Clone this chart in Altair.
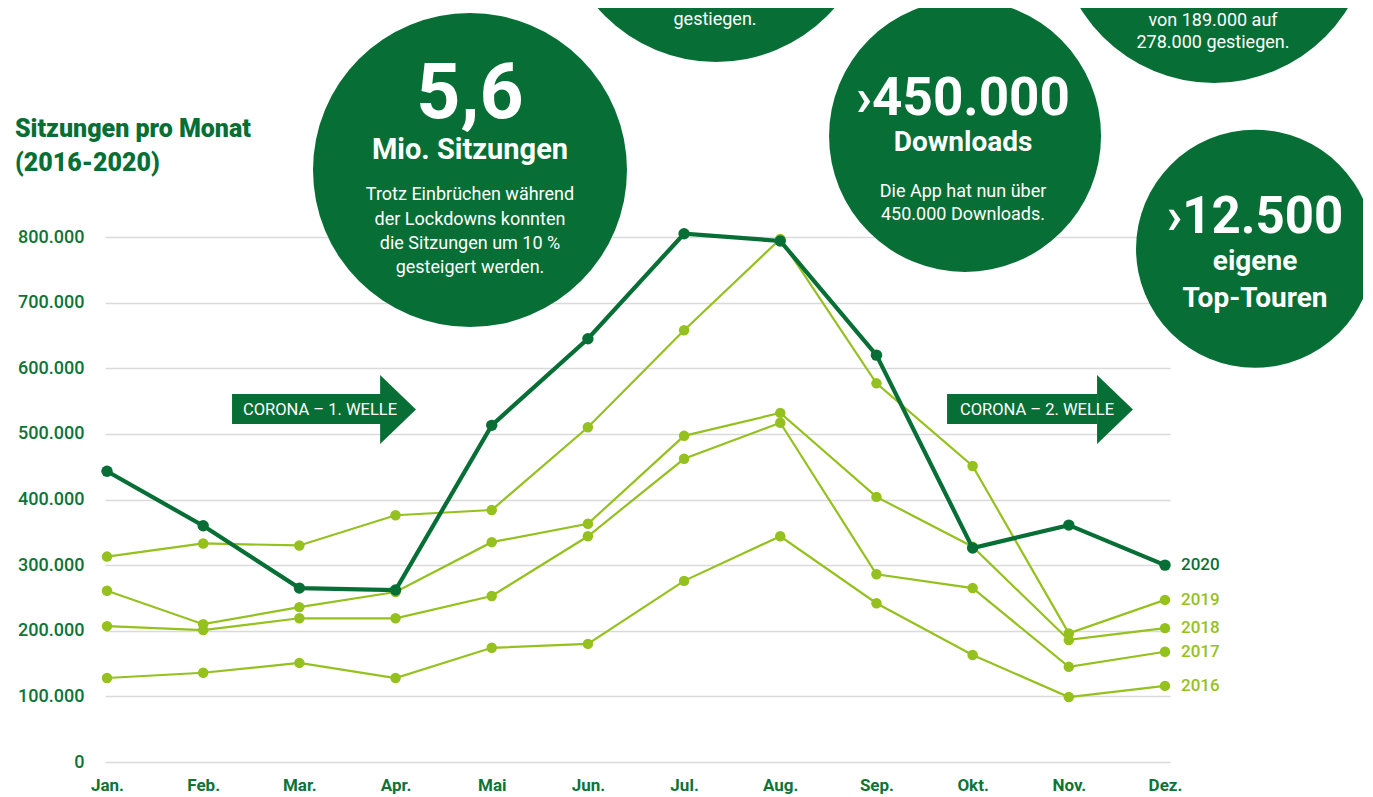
import altair as alt
import pandas as pd

# ---------------- data ----------------
months = ["Jan.", "Feb.", "Mar.", "Apr.", "Mai", "Jun.", "Jul.", "Aug.", "Sep.", "Okt.", "Nov.", "Dez."]
years = ["2016", "2017", "2018", "2019", "2020"]
s2016 = [128000, 136000, 151000, 128000, 174000, 180000, 276000, 344000, 242000, 163000, 99000, 116000]
s2017 = [207000, 201000, 219000, 219000, 253000, 344000, 462000, 517000, 286000, 265000, 145000, 168000]
s2018 = [261000, 210000, 236000, 259000, 335000, 363000, 497000, 532000, 404000, 328000, 186000, 204000]
s2019 = [313000, 333000, 330000, 376000, 384000, 510000, 658000, 797000, 577000, 451000, 196000, 247000]
s2020 = [443000, 360000, 265000, 262000, 513000, 645000, 805000, 794000, 620000, 326000, 361000, 300000]
y_ticks = [0, 100000, 200000, 300000, 400000, 500000, 600000, 700000, 800000]

series = {"2016": s2016, "2017": s2017, "2018": s2018, "2019": s2019, "2020": s2020}
rows = []
for yr, vals in series.items():
    for i, v in enumerate(vals):
        rows.append({"year": yr, "m": i, "v": v})
df = pd.DataFrame(rows)

# annotation content (positions in chart units: month index / sessions)
circle_x = [3.774, 6.332, 8.921, 11.51, 11.936]
circle_y = [902000, 1306000, 954000, 1274000, 782000]
circle_d = [314, 314, 272, 314, 238]  # diameters

title_lines = ["Sitzungen pro Monat", "(2016-2020)"]
title_y = [952400, 900600]

big_texts = ["5,6", "›450.000", "›12.500"]
big_x = [3.774, 8.90, 11.936]
big_y = [981300, 985900, 806100]
big_sizes = [77, 53, 51]

head_texts = ["Mio. Sitzungen", "Downloads", "eigene", "Top-Touren"]
head_x = [3.774, 8.90, 11.936, 11.936]
head_y = [918900, 931000, 749700, 693300]
head_sizes = [29, 28, 28, 28]

body_texts = ["Trotz Einbrüchen während", "der Lockdowns konnten", "die Sitzungen um 10 %",
              "gesteigert werden.", "gestiegen.", "Die App hat nun über", "450.000 Downloads.",
              "von 189.000 auf", "278.000 gestiegen."]
body_x = [3.774, 3.774, 3.774, 3.774, 6.322, 8.90, 8.90, 11.499, 11.499]
body_y = [856400, 819000, 781700, 744400, 1123000, 861000, 825900, 1121500, 1088000]

arrow_labels = ["CORONA – 1. WELLE", "CORONA – 2. WELLE"]
arrow_x0 = [1.30, 8.734]
arrow_x1 = [2.849, 10.293]
arrow_head_x = [3.026, 10.48]
arrow_text_x = [2.215, 9.669]
arrow_y0 = [515000, 515000]
arrow_y1 = [560800, 560800]
arrow_mid = [537100, 537100]

# ---------------- styling ----------------
DARK = "#076f35"
LIGHT = "#95c11f"
LABEL = "#0d7437"
FONT = "Roboto"

xscale = alt.Scale(domain=[-0.0208, 11.052], nice=False, zero=False)
yscale = alt.Scale(domain=[0, 800000], nice=False, zero=False)
color_scale = alt.Scale(domain=years, range=[LIGHT, LIGHT, LIGHT, LIGHT, DARK])

month_expr = "[" + ",".join("'" + m + "'" for m in months) + "][datum.value]"

x_axis = alt.Axis(values=list(range(12)), labelExpr=month_expr, grid=False, domain=False,
                  ticks=False, title=None, labelFont=FONT, labelFontWeight="bold",
                  labelFontSize=17, labelColor=LABEL, labelPadding=15)
y_axis = alt.Axis(values=y_ticks, labelExpr="replace(format(datum.value, ','), ',', '.')",
                  grid=True, gridColor="#dadada", gridWidth=1.5, domain=False, ticks=False,
                  title=None, labelFont=FONT, labelFontWeight=500, labelFontSize=18,
                  labelColor=LABEL, labelPadding=21)


def X(field="m"):
    return alt.X(f"{field}:Q", scale=xscale, axis=x_axis)


def Y(field="v"):
    return alt.Y(f"{field}:Q", scale=yscale, axis=y_axis)


circles = alt.Chart(pd.DataFrame({"m": circle_x, "v": circle_y, "d": circle_d})).transform_calculate(
    s="datum.d * datum.d"
).mark_circle(color=DARK, opacity=1).encode(
    x=X(), y=Y(), size=alt.Size("s:Q", scale=None, legend=None)
)

light_df = df[df.year != "2020"]
dark_df = df[df.year == "2020"]

light_lines = alt.Chart(light_df).mark_line(color=LIGHT, strokeWidth=2.2).encode(
    x=X(), y=Y(), detail="year:N")
light_pts = alt.Chart(light_df).mark_circle(color=LIGHT, opacity=1, size=110).encode(x=X(), y=Y())
dark_line = alt.Chart(dark_df).mark_line(color=DARK, strokeWidth=4.2).encode(x=X(), y=Y())
dark_pts = alt.Chart(dark_df).mark_circle(color=DARK, opacity=1, size=130).encode(x=X(), y=Y())

year_labels = alt.Chart(df[df.m == 11]).mark_text(
    align="left", baseline="middle", dx=16, font=FONT, fontSize=17, fontWeight=500
).encode(x=X(), y=Y(), text="year:N",
         color=alt.Color("year:N", scale=color_scale, legend=None))

arrow_df = pd.DataFrame({"x0": arrow_x0, "x1": arrow_x1, "y0": arrow_y0, "y1": arrow_y1,
                         "hx": arrow_head_x, "tx": arrow_text_x, "ym": arrow_mid, "t": arrow_labels})
arrow_body = alt.Chart(arrow_df).mark_rect(color=DARK).encode(
    x=X("x0"), x2="x1:Q", y=Y("y0"), y2="y1:Q")
arrow_head = alt.Chart(arrow_df).mark_point(
    shape="M -0.52 -1 L 0.52 0 L -0.52 1 Z", filled=True, opacity=1, color=DARK, strokeWidth=0
).encode(x=X("hx"), y=Y("ym"), size=alt.value(4761))
arrow_text = alt.Chart(arrow_df).mark_text(
    font=FONT, fontSize=16.5, color="white", baseline="middle", align="center"
).encode(x=X("tx"), y=Y("ym"), text="t:N")


def text_layer(texts, xs, ys, sizes, weight="normal", color="white", align="center"):
    d = pd.DataFrame({"t": texts, "m": xs, "v": ys, "fs": sizes})
    return alt.Chart(d).mark_text(
        font=FONT, fontWeight=weight, color=color, align=align, baseline="alphabetic"
    ).encode(x=X(), y=Y(), text="t:N", size=alt.Size("fs:Q", scale=None, legend=None))


title_layer = text_layer(title_lines, [-0.957, -0.957], title_y, [25, 25], weight=900,
                         color=DARK, align="left")
big_layer = text_layer(big_texts, big_x, big_y, big_sizes, weight="bold")
head_layer = text_layer(head_texts, head_x, head_y, head_sizes, weight="bold")
body_layer = text_layer(body_texts, body_x, body_y, [18] * len(body_texts))

chart = alt.layer(
    circles, light_lines, light_pts, dark_line, dark_pts, year_labels,
    arrow_body, arrow_head, arrow_text, title_layer, big_layer, head_layer, body_layer
).properties(
    width=1065, height=525,
    autosize=alt.AutoSizeParams(type="none"),
    padding={"left": 97, "top": 229, "right": 193, "bottom": 35},
    background="white",
).configure_view(strokeWidth=0)

chart.save("out.html", embed_options={"renderer": "svg", "actions": False})
